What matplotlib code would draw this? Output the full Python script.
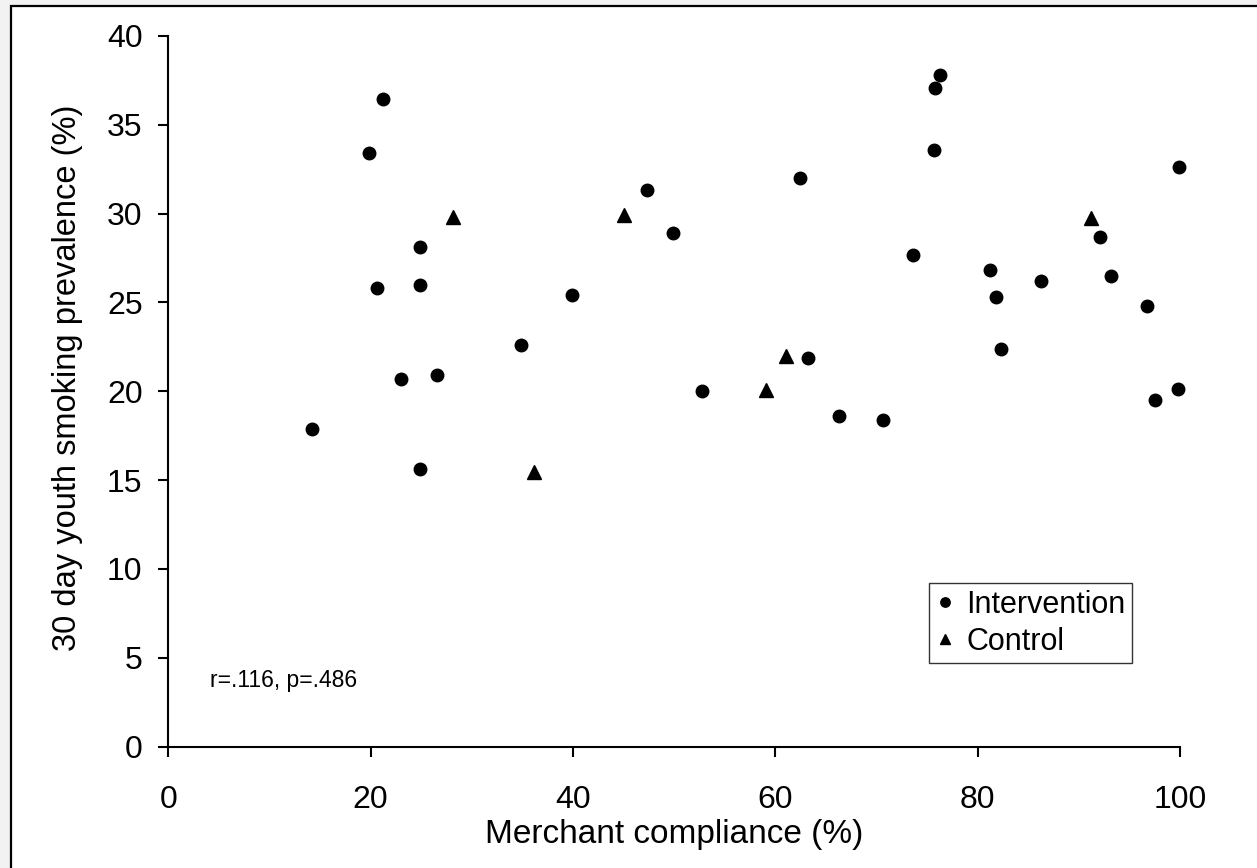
import matplotlib
matplotlib.use("Agg")
import matplotlib.pyplot as plt
from matplotlib.patches import Rectangle

plt.rcParams['font.family'] = ['Liberation Sans', 'DejaVu Sans']

# Data
intervention_x = [14.2, 19.85, 20.6, 21.2, 23.0, 24.9, 24.9, 24.9, 26.6, 34.9, 39.9,
                  47.3, 49.9, 52.8, 62.4, 63.2, 66.3, 70.6, 73.6, 75.7, 75.8, 76.3,
                  81.2, 81.8, 82.3, 86.3, 92.1, 93.2, 96.7, 97.5, 99.9, 99.85]
intervention_y = [17.9, 33.4, 25.8, 36.45, 20.7, 28.1, 26.0, 15.6, 20.9, 22.6, 25.4,
                  31.35, 28.9, 20.0, 32.0, 21.85, 18.6, 18.4, 27.65, 33.6, 37.1, 37.8,
                  26.8, 25.3, 22.4, 26.2, 28.7, 26.5, 24.8, 19.5, 32.6, 20.1]
control_x = [28.1, 36.1, 45.0, 59.1, 61.1, 91.2]
control_y = [29.8, 15.45, 29.9, 20.05, 22.0, 29.75]

x_ticks = [0, 20, 40, 60, 80, 100]
y_ticks = [0, 5, 10, 15, 20, 25, 30, 35, 40]
x_label = "Merchant compliance (%)"
y_label = "30 day youth smoking prevalence (%)"
stat_text = "r=.116, p=.486"
series_names = ["Intervention", "Control"]

W, H = 1257, 868
fig = plt.figure(figsize=(W / 100, H / 100), dpi=100, facecolor='#f2f2f2')

# white panel with black frame (left and top edges visible)
fig.patches.append(Rectangle((11 / W, -0.05), 1.2, (H - 6) / H + 0.05,
                             transform=fig.transFigure, facecolor='white',
                             edgecolor='black', linewidth=1.6, zorder=-10))

ax = fig.add_axes([168.3 / W, (H - 746.5) / H, (1180 - 168.3) / W, (746.5 - 36) / H])
ax.set_facecolor('none')
ax.set_zorder(5)

ax.plot(intervention_x, intervention_y, linestyle='none', marker='o', markersize=9,
        color='black', label=series_names[0], clip_on=False)
ax.plot(control_x, control_y, linestyle='none', marker='^', markersize=10,
        color='black', label=series_names[1], clip_on=False)

ax.set_xlim(0, 100)
ax.set_ylim(0, 40)
ax.set_xticks(x_ticks)
ax.set_yticks(y_ticks)
ax.set_xticklabels([str(t) for t in x_ticks])
ax.set_yticklabels([str(t) for t in y_ticks])

for s in ['top', 'right']:
    ax.spines[s].set_visible(False)
for s in ['left', 'bottom']:
    ax.spines[s].set_linewidth(1.5)
ax.tick_params(axis='both', direction='out', length=7.5, width=1.5, labelsize=23)
ax.tick_params(axis='x', pad=20)
ax.tick_params(axis='y', pad=11)

ax.set_xlabel(x_label, fontsize=24, labelpad=3)
ax.set_ylabel(y_label, fontsize=23.5)
ax.yaxis.set_label_coords(-0.084, 0.519)

ax.text(4.1, 3.35, stat_text, fontsize=16.5, ha='left', va='baseline')

leg = ax.legend(loc='upper left', bbox_to_anchor=(929 / W, 1 - 583.3 / H),
                bbox_transform=fig.transFigure, fontsize=22, frameon=True,
                fancybox=False, borderaxespad=0, handlelength=0.6,
                handletextpad=0.4, labelspacing=0.22, borderpad=0.22,
                markerscale=0.75)
leg.get_frame().set_edgecolor('black')
leg.get_frame().set_linewidth(1.0)

fig.savefig('out.png', dpi=100, facecolor=fig.get_facecolor())
